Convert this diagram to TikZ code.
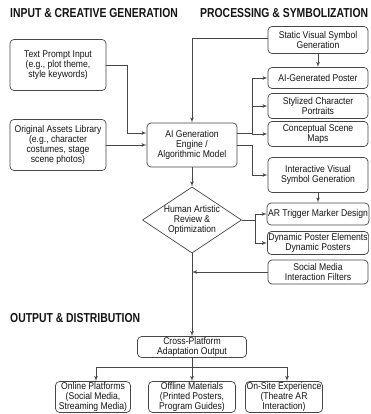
\documentclass[tikz,border=0pt]{standalone}
\usepackage{fontspec}
\setmainfont{Liberation Sans}[FakeStretch=0.88]
\newfontfamily\headfont{Liberation Sans}[FakeStretch=0.8]
\usetikzlibrary{shapes.geometric, arrows}
\definecolor{flowGray}{RGB}{70,70,70}
\definecolor{flowText}{RGB}{20,20,20}

\begin{document}
\begin{tikzpicture}[x=1pt, y=-1pt, font=\fontsize{9.8}{9.8}\selectfont, text=flowText]
    \tikzstyle{block} = [draw=flowGray, line width=0.7pt, rectangle, rounded corners=4pt, fill=white, align=center, inner sep=1pt, minimum width=100pt]
    \tikzstyle{decision} = [draw=flowGray, line width=0.7pt, diamond, aspect=1.5, inner sep=0pt, minimum width=99pt, minimum height=65pt, align=center]
    \tikzstyle{heading} = [anchor=west, inner sep=0pt, font=\headfont\bfseries\fontsize{13}{13}\selectfont]
    \tikzstyle{line} = [draw=flowGray, line width=0.75pt, -latex']

    \useasboundingbox (0,0) rectangle (370,414);

    % section titles
    \node [heading] (headIn) at (10,13) {INPUT \& CREATIVE GENERATION};
    \node [heading] (headProc) at (200,13) {PROCESSING \& SYMBOLIZATION};
    \node [heading] (headOut) at (10,318) {OUTPUT \& DISTRIBUTION};

    % input
    \node [block, minimum width=96pt, minimum height=51pt] (prompt) at (58,65) {Text Prompt Input\\(e.g., plot theme,\\style keywords)};
    \node [block, minimum width=96pt, minimum height=51pt] (assets) at (58,145) {Original Assets Library\\(e.g., character\\costumes, stage\\scene photos)};
    \node [block, minimum width=90pt, minimum height=44pt] (engine) at (192,145) {AI Generation\\Engine /\\Algorithmic Model};

    % processing
    \node [block, minimum height=27pt] (static) at (318,40) {Static Visual Symbol\\Generation};
    \node [block, minimum height=21pt] (poster) at (318,78) {AI-Generated Poster};
    \node [block, minimum height=25pt] (portraits) at (318,106) {Stylized Character\\Portraits};
    \node [block, minimum height=25pt] (scene) at (318,134) {Conceptual Scene\\Maps};
    \node [block, minimum height=35pt] (interactive) at (318,175) {Interactive Visual\\Symbol Generation};
    \node [block, minimum height=22pt] (marker) at (318,214) {AR Trigger Marker Design};
    \node [block, minimum height=23pt] (dynamic) at (318,243) {Dynamic Poster Elements\\Dynamic Posters};
    \node [block, minimum height=24pt] (social) at (318,272) {Social Media\\Interaction Filters};
    \node [decision] (review) at (192,220) {Human Artistic\\Review \&\\Optimization};

    % output
    \node [block, minimum width=109pt, minimum height=18pt] (cross) at (192,347) {Cross-Platform\\Adaptation Output};
    \node [block, minimum width=75pt, minimum height=31pt] (online) at (93,397) {Online Platforms\\(Social Media,\\Streaming Media)};
    \node [block, minimum width=87pt, minimum height=31pt] (offline) at (192,397) {Offline Materials\\(Printed Posters,\\Program Guides)};
    \node [block, minimum width=77pt, minimum height=31pt] (onsite) at (284,397) {On-Site Experience\\(Theatre AR\\Interaction)};

    % input -> engine
    \path [line] (prompt.east) -- ++(21,0) |- ([yshift=12pt]engine.west);
    \path [line] (assets.east) -- (engine.west);
    \path [line] ([yshift=2pt]static.west) -| (engine.north);

    % engine -> symbols
    \draw [draw=flowGray, line width=0.75pt] ([yshift=12pt]engine.east) -- ++(15,0) coordinate (fanTop);
    \path [line] (fanTop) |- (poster.west);
    \path [line] (fanTop) |- (portraits.west);
    \path [line] (fanTop) |- (scene.west);
    \path [line] (engine.east) -- ++(15,0) |- (interactive.west);
    \path [line] (static) -- (poster);
    \path [line] (interactive) -- (marker);

    % review
    \path [line] (engine) -- (review);
    \draw [draw=flowGray, line width=0.75pt] (review.east) -- ++(13,0) coordinate (fanMid);
    \path [line] (fanMid) |- (marker.west);
    \path [line] (fanMid) |- (dynamic.west);
    \path [line] (social.west) -- (social.west -| review.south);
    \path [line] (review.south) -- (cross.north);

    % distribution
    \draw [draw=flowGray, line width=0.75pt] (cross.south) -- ++(0,10) coordinate (fanLow);
    \path [line] (fanLow) -| ([xshift=3pt]online.north);
    \path [line] (fanLow) -- (offline.north);
    \path [line] (fanLow) -| ([xshift=3pt]onsite.north);
\end{tikzpicture}
\end{document}
